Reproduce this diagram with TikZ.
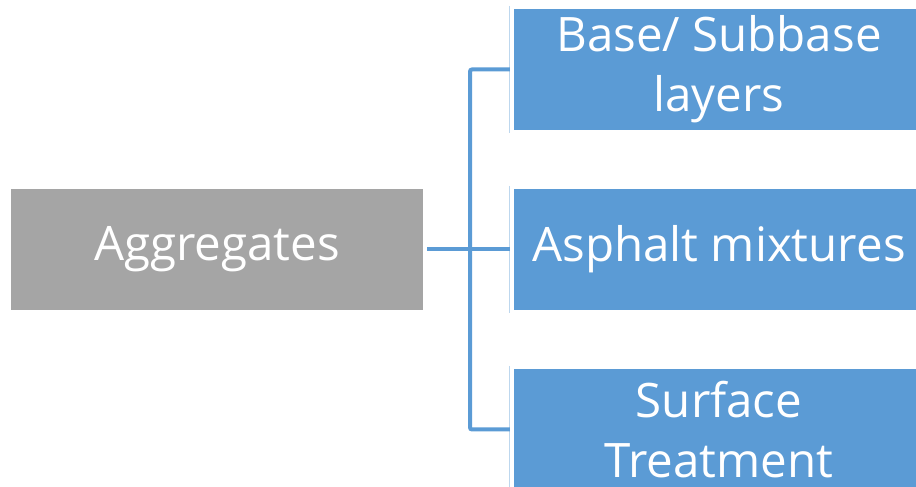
\documentclass[tikz,border=0pt]{standalone}
\usepackage{fontspec}
\setmainfont{Open Sans}
\usepackage{tikz}
\usetikzlibrary{positioning,calc}
\definecolor{aggray}{HTML}{A5A5A5}
\definecolor{agblue}{HTML}{5B9BD5}
\definecolor{agpale}{HTML}{BDD7EE}
\tikzset{
  gnode/.style={rectangle,fill=aggray,minimum width=412pt,minimum height=121pt,inner sep=0pt,text=white,font=\fontsize{47.5}{60}\selectfont},
  bnode/.style={rectangle,fill=agblue,minimum width=410pt,minimum height=121pt,inner sep=0pt,text=white,align=center,font=\fontsize{47.5}{60}\selectfont},
  conn/.style={draw=agblue,line width=4pt,rounded corners=2pt},
  edge/.style={draw=agpale,line width=1pt}
}
\begin{document}
\begin{tikzpicture}[x=1pt,y=1pt]
\clip (0,0) rectangle (916,487);
\node[gnode] (agg) at (217,237.5) {Aggregates};
\node[bnode] (base) at (719,417.5) {Base/ Subbase\\layers};
\node[bnode] (asph) at (719,237.5) {Asphalt mixtures};
\node[bnode] (surf) at (719,57.5) {Surface\\Treatment};
\coordinate (jn) at (470,237.5);
% thin edges left of the boxes
\foreach \n in {base,asph,surf}
  \draw[edge] ([shift={(-4pt,3pt)}]\n.north west) -- ([shift={(-4pt,-3pt)}]\n.south west);
\draw[conn] ([xshift=4pt]agg.east) -- ([xshift=-4pt]asph.west);
\draw[conn] ([xshift=-4pt]base.west) -| (jn) |- ([xshift=-4pt]surf.west);
\end{tikzpicture}
\end{document}
